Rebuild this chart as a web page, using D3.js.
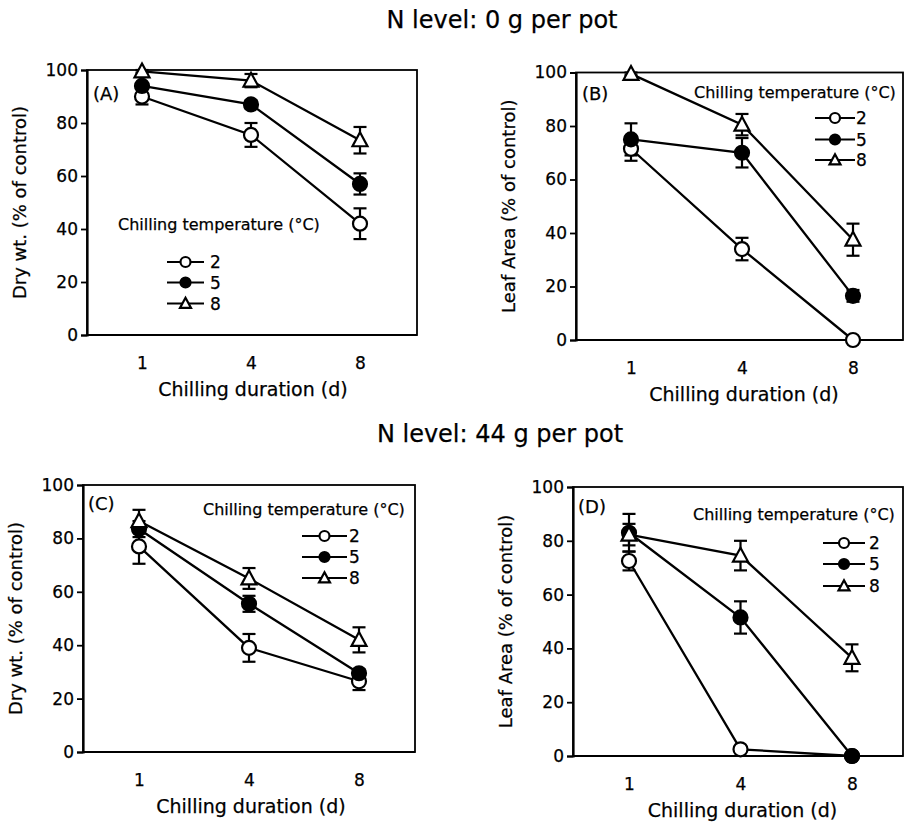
<!DOCTYPE html>
<html>
<head>
<meta charset="utf-8">
<script src="https://cdn.jsdelivr.net/npm/d3@7"></script>
<style>
  body { margin: 0; background: #fff; }
  text { font-family: 'DejaVu Sans', Verdana, sans-serif; fill: #000; stroke: #000; stroke-width: 0.25px; }
</style>
</head>
<body>
<script>
// chilling duration (d) and chilling temperature (°C)
const durations = ['1', '4', '8']
const temps = ['2', '5', '8']

// rows = temperature 2, 5, 8 ; cols = duration 1, 4, 8
const dryWtN0 = [[90, 75.5, 42], [94, 87, 57], [99.5, 96, 73.5]]
const dryWtN0Err = [[3, 4.5, 5.8], [1, 1.5, 4], [0.5, 2.5, 5]]
const leafAreaN0 = [[71.5, 34, 0], [75, 70, 16.5], [99.5, 80.5, 37.5]]
const leafAreaN0Err = [[4.5, 4.2, 0], [6, 5.5, 2.2], [0.5, 4, 6]]
const dryWtN44 = [[77, 39, 26.5], [83.5, 55.5, 29.5], [86.5, 65, 42]]
const dryWtN44Err = [[6.5, 5.2, 3.3], [3, 3, 1.5], [4.2, 3.9, 4.7]]
const leafAreaN44 = [[72.5, 2.5, 0], [83, 51.5, 0], [82.3, 74.5, 36.5]]
const leafAreaN44Err = [[3.5, 0, 0], [7, 6, 0], [4, 5.5, 5]]

const yTicks = [0, 20, 40, 60, 80, 100]

const svg = d3.select('body').append('svg')
  .attr('width', 904)
  .attr('height', 825)

svg.append('text').attr('x', 502).attr('y', 28)
  .attr('text-anchor', 'middle').style('font-size', '24px')
  .text('N level: 0 g per pot')
svg.append('text').attr('x', 500).attr('y', 442)
  .attr('text-anchor', 'middle').style('font-size', '24px')
  .text('N level: 44 g per pot')

const panels = [
  {label: '(A)', data: dryWtN0, err: dryWtN0Err, yTitle: 'Dry wt. (% of control)',
   left: 87, top: 70, right: 417, bottom: 335, xr: [55, 273], lab: [6, 30],
   leg: {tx: 31, ty: 160, rows: [192, 212.5, 233.5], line: [80, 117], lx: 123}},
  {label: '(B)', data: leafAreaN0, err: leafAreaN0Err, yTitle: 'Leaf Area (% of control)',
   left: 576, top: 72.5, right: 903, bottom: 340, xr: [55, 277], lab: [6, 27.5],
   leg: {tx: 118, ty: 25.5, rows: [45.5, 67, 87.5], line: [239, 279], lx: 280}},
  {label: '(C)', data: dryWtN44, err: dryWtN44Err, yTitle: 'Dry wt. (% of control)',
   left: 83, top: 485, right: 415, bottom: 752, xr: [56, 276], lab: [5, 25],
   leg: {tx: 120, ty: 30, rows: [51, 72, 93], line: [219, 264], lx: 266}},
  {label: '(D)', data: leafAreaN44, err: leafAreaN44Err, yTitle: 'Leaf Area (% of control)',
   left: 573, top: 487, right: 903, bottom: 756, xr: [56, 279], lab: [5, 25.5],
   leg: {tx: 120, ty: 33, rows: [56, 77, 99], line: [250, 292], lx: 296}}
]

const triangle = (s) => `M0,${-s * 1.05}L${s},${s * 0.8}L${-s},${s * 0.8}Z`

const drawMarker = (g, i, cx, cy, big) => {
  const r = big ? 7 : 5
  if (i === 2) {
    g.append('path')
      .attr('d', triangle(big ? 7.5 : 5.5))
      .attr('transform', `translate(${cx},${cy})`)
      .attr('fill', '#fff').attr('stroke', '#000').attr('stroke-width', 2.2)
      .attr('stroke-linejoin', 'miter')
  } else {
    g.append('circle')
      .attr('cx', cx).attr('cy', cy).attr('r', r)
      .attr('fill', i === 1 ? '#000' : '#fff')
      .attr('stroke', '#000').attr('stroke-width', 2.2)
  }
}

panels.forEach(p => {
  const w = p.right - p.left
  const h = p.bottom - p.top
  const g = svg.append('g').attr('transform', `translate(${p.left},${p.top})`)

  const x = d3.scalePoint().domain(durations).range(p.xr)
  const y = d3.scaleLinear().domain([0, 100]).range([h, 0])

  // frame
  g.append('rect').attr('width', w).attr('height', h)
    .attr('fill', 'none').attr('stroke', '#000').attr('stroke-width', 1.8)

  // y axis
  const ya = g.append('g')
    .call(d3.axisLeft(y).tickValues(yTicks).tickSize(6).tickPadding(3).tickFormat(d3.format('d')))
  ya.select('.domain').attr('stroke-width', 2.2)
  ya.selectAll('.tick line').attr('stroke-width', 1.8)
  ya.selectAll('text').style('font-size', '17px')

  // x axis labels only, no ticks
  const xa = g.append('g').attr('transform', `translate(0,${h})`)
    .call(d3.axisBottom(x).tickSize(0).tickPadding(22))
  xa.select('.domain').attr('stroke-width', 2.2).attr('d', `M0,0H${w}`)
  xa.selectAll('text').style('font-size', '17px')

  g.append('text').attr('x', (p.xr[0] + p.xr[1]) / 2 + 2).attr('y', h + 61)
    .attr('text-anchor', 'middle').style('font-size', '19px')
    .text('Chilling duration (d)')

  g.append('text')
    .attr('transform', `translate(${-61},${h / 2}) rotate(-90)`)
    .attr('text-anchor', 'middle').style('font-size', '18px')
    .text(p.yTitle)

  g.append('text').attr('x', p.lab[0]).attr('y', p.lab[1])
    .style('font-size', '18px').text(p.label)

  const line = d3.line().x((d, j) => x(durations[j])).y(d => y(d))
  p.data.forEach(s => {
    g.append('path').attr('d', line(s))
      .attr('fill', 'none').attr('stroke', '#000').attr('stroke-width', 2.3)
  })

  // error bars
  p.data.forEach((s, i) => {
    s.forEach((v, j) => {
      const e = p.err[i][j]
      if (!e) return
      const cx = x(durations[j])
      const eg = g.append('g').attr('stroke', '#000').attr('stroke-width', 2.2)
      eg.append('line').attr('x1', cx).attr('x2', cx).attr('y1', y(v - e)).attr('y2', y(v + e))
      eg.append('line').attr('x1', cx - 6.5).attr('x2', cx + 6.5).attr('y1', y(v + e)).attr('y2', y(v + e))
      eg.append('line').attr('x1', cx - 6.5).attr('x2', cx + 6.5).attr('y1', y(v - e)).attr('y2', y(v - e))
    })
  })

  p.data.forEach((s, i) => {
    s.forEach((v, j) => drawMarker(g, i, x(durations[j]), y(v), true))
  })

  // legend
  const L = p.leg
  g.append('text').attr('x', L.tx).attr('y', L.ty)
    .style('font-size', '16px').text('Chilling temperature (°C)')
  temps.forEach((t, i) => {
    const ry = L.rows[i]
    g.append('line').attr('x1', L.line[0]).attr('x2', L.line[1])
      .attr('y1', ry).attr('y2', ry).attr('stroke', '#000').attr('stroke-width', 2)
    drawMarker(g, i, (L.line[0] + L.line[1]) / 2, ry, false)
    g.append('text').attr('x', L.lx).attr('y', ry).attr('dy', '0.36em')
      .style('font-size', '17px').text(t)
  })
})
</script>
</body>
</html>
